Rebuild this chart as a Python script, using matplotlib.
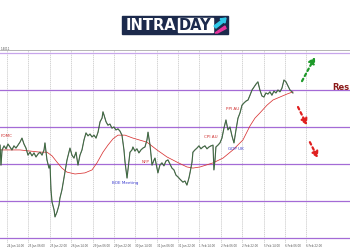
import numpy as np
import matplotlib
matplotlib.use("Agg")
import matplotlib.pyplot as plt
from matplotlib.patches import Rectangle, Polygon

# hours since first grid line (H1 chart) and close prices
hours = [-5.2, -4.5, -3.7, -2.2, -0.7, 0.7, 2.2, 3.7, 5.2, 6.7, 8.2, 9.7, 11.2, 12.7, 14.2, 15.7,
         17.2, 18.7, 20.2, 21.7, 23.2, 24.7, 26.2, 27.7, 28.4, 29.9, 31.4, 32.2, 32.9, 33.7, 35.2,
         35.9, 37.4, 38.9, 39.6, 41.1, 42.6, 43.4, 44.9, 46.4, 47.1, 48.6, 50.1, 51.6, 53.1, 54.6,
         56.1, 57.6, 59.1, 60.6, 62.1, 63.6, 65.1, 66.6, 68.1, 69.6, 71.1, 71.8, 72.6, 74.1, 75.5,
         77.0, 78.5, 80.0, 81.5, 83.0, 84.5, 86.0, 87.5, 88.3, 89.8, 90.5, 92.0, 93.5, 94.2, 95.7,
         97.2, 98.7, 100.2, 101.7, 103.2, 104.7, 105.5, 107.0, 108.5, 110.0, 110.7, 112.2, 112.9,
         114.4, 115.9, 117.4, 118.9, 120.4, 121.9, 123.4, 124.9, 126.4, 127.9, 129.4, 131.6, 133.1,
         134.6, 136.1, 136.9, 138.4, 139.1, 140.6, 142.1, 143.6, 145.1, 146.6, 148.1, 149.6, 151.1,
         152.6, 154.1, 154.8, 155.6, 156.3, 157.8, 159.3, 160.8, 162.3, 163.8, 165.3, 166.8, 168.3,
         169.8, 171.3, 172.8, 174.3, 175.8, 177.3, 178.8, 180.3, 181.8, 183.3, 184.8, 186.3, 187.7,
         189.2, 190.7, 192.2, 193.7, 195.2, 196.7, 198.2, 199.7, 201.2, 202.7, 204.2, 205.7, 207.2,
         208.7, 210.2, 211.7, 213.2, 213.9]
close = [1.3751, 1.3697, 1.3738, 1.3749, 1.3741, 1.3754, 1.3746, 1.3738, 1.3749, 1.3743, 1.3751,
         1.3759, 1.3770, 1.3754, 1.3743, 1.3724, 1.3732, 1.3722, 1.3730, 1.3719, 1.3727, 1.3732,
         1.3724, 1.3738, 1.3757, 1.3711, 1.3689, 1.3697, 1.3630, 1.3597, 1.3576, 1.3557, 1.3570,
         1.3589, 1.3608, 1.3630, 1.3662, 1.3678, 1.3711, 1.3732, 1.3743, 1.3724, 1.3716, 1.3732,
         1.3697, 1.3724, 1.3738, 1.3765, 1.3784, 1.3776, 1.3781, 1.3773, 1.3778, 1.3770, 1.3786,
         1.3814, 1.3824, 1.3841, 1.3832, 1.3814, 1.3805, 1.3808, 1.3797, 1.3800, 1.3792, 1.3795,
         1.3789, 1.3778, 1.3738, 1.3705, 1.3662, 1.3684, 1.3732, 1.3738, 1.3746, 1.3735, 1.3741,
         1.3730, 1.3738, 1.3743, 1.3746, 1.3765, 1.3786, 1.3751, 1.3697, 1.3711, 1.3716, 1.3689,
         1.3676, 1.3697, 1.3703, 1.3695, 1.3708, 1.3711, 1.3700, 1.3689, 1.3684, 1.3670, 1.3665,
         1.3659, 1.3651, 1.3654, 1.3643, 1.3662, 1.3676, 1.3705, 1.3732, 1.3738, 1.3743, 1.3749,
         1.3741, 1.3746, 1.3749, 1.3741, 1.3746, 1.3749, 1.3751, 1.3684, 1.3711, 1.3746, 1.3751,
         1.3757, 1.3770, 1.3797, 1.3819, 1.3792, 1.3800, 1.3776, 1.3757, 1.3792, 1.3824, 1.3838,
         1.3859, 1.3865, 1.3870, 1.3873, 1.3886, 1.3900, 1.3908, 1.3916, 1.3922, 1.3900, 1.3884,
         1.3881, 1.3892, 1.3889, 1.3895, 1.3886, 1.3897, 1.3892, 1.3900, 1.3895, 1.3905, 1.3927,
         1.3922, 1.3911, 1.3900, 1.3895, 1.3892]

# moving average (red)
ma_hours = [-5.2, 2.2, 9.7, 17.2, 24.7, 29.9, 33.7, 37.4, 41.1, 44.9, 50.9, 58.3, 63.6, 67.3, 71.8,
            75.5, 79.3, 83.0, 88.3, 94.2, 104.7, 112.2, 119.7, 127.2, 134.6, 139.1, 144.4, 154.1,
            161.6, 169.0, 176.5, 181.8, 185.5, 189.2, 194.5, 199.0, 204.2, 209.4, 213.9]
ma = [1.3738, 1.3738, 1.3738, 1.3735, 1.3732, 1.3732, 1.3722, 1.3705, 1.3689, 1.3678, 1.3673,
      1.3676, 1.3684, 1.3703, 1.3732, 1.3751, 1.3768, 1.3778, 1.3778, 1.3770, 1.3759, 1.3738,
      1.3719, 1.3705, 1.3692, 1.3689, 1.3692, 1.3703, 1.3716, 1.3738, 1.3765, 1.3803, 1.3824,
      1.3838, 1.3859, 1.3873, 1.3881, 1.3889, 1.3895]

# horizontal support / resistance levels
levels = [1.3500, 1.3600, 1.3700, 1.3800, 1.3900, 1.4000]

# grid every 16 hours
grid_hours = list(range(0, 225, 16))
tick_labels = ["24 Jan 14:00", "25 Jan 06:00", "25 Jan 22:00", "26 Jan 14:00", "29 Jan 06:00",
               "29 Jan 22:00", "30 Jan 14:00", "31 Jan 06:00", "31 Jan 22:00", "1 Feb 14:00",
               "2 Feb 06:00", "2 Feb 22:00", "5 Feb 14:00", "6 Feb 06:00", "6 Feb 22:00"]

# event labels: text, hour, price, colour
events = [("FOMC", -5.0, 1.3776, "#d03030", "left"),
          ("BOE Meeting", 88.3, 1.3649, "#3a3ad0", "center"),
          ("NFP", 104.0, 1.3705, "#d03030", "center"),
          ("CPI AU", 152.6, 1.3773, "#d03030", "center"),
          ("GDP UK", 171.3, 1.3741, "#3a3ad0", "center"),
          ("PPI AU", 169.0, 1.3849, "#d03030", "center")]

# scenario arrows: start, end, colour
arrows = [((220.7, 1.3924), (230.4, 1.3989), "#1e9a2a"),
          ((217.7, 1.3854), (224.4, 1.3805), "#e02020"),
          ((226.6, 1.3759), (232.6, 1.3716), "#e02020")]

fig = plt.figure(figsize=(3.5, 2.5), dpi=100)
fig.patch.set_facecolor("white")

ax = fig.add_axes([0, 7 / 250, 1, 193 / 250])
ax.set_xlim(-5.24, 256.6)
ax.set_ylim(1.35 + (238 - 243) / 3700, 1.35 + (238 - 50) / 3700)

for g in grid_hours:
    ax.axvline(g, color="#c4c4c4", lw=0.5, ls=(0, (2, 1)), zorder=1)
for i, lv in enumerate(levels):
    col = "#c8a6ec" if i == len(levels) - 1 else "#a46bd6"
    ax.axhline(lv, color=col, lw=0.9, zorder=2)

ax.plot(ma_hours, ma, color="#d83434", lw=0.55, zorder=3)
ax.plot(hours, close, color="#3a3f3a", lw=0.8, zorder=4)
ax.plot(hours, close, color="#4aa050", lw=0.3, zorder=5)

for txt, hx, py, col, ha in events:
    ax.text(hx, py, txt, color=col, fontsize=3, ha=ha, va="center", zorder=6)

ax.text(255.8, 1.3908, "Res", color="#8b1a1a", fontsize=6, fontweight="bold",
        ha="right", va="center", zorder=6)

for (x0, y0), (x1, y1), col in arrows:
    ax.annotate("", xy=(x1, y1), xytext=(x0, y0),
                arrowprops=dict(arrowstyle="-|>,head_length=0.35,head_width=0.2", color=col,
                                lw=1.6, linestyle=(0, (1.2, 1.4)), shrinkA=0, shrinkB=0),
                zorder=7)

ax.text(-4.5, 1.4005, "1.4011", fontsize=2, color="#555555", va="bottom")

ax.set_xticks(grid_hours)
ax.set_xticklabels(tick_labels, fontsize=2, color="#555555", ha="left")
ax.tick_params(axis="x", length=0, pad=1)
ax.set_yticks([])
for s in ["left", "right", "bottom"]:
    ax.spines[s].set_visible(False)
ax.spines["top"].set_color("#aaaaaa")
ax.spines["top"].set_linewidth(0.6)

# INTRADAY logo
W, H = 350.0, 250.0
def fx(px):
    return px / W
def fy(py):
    return 1 - py / H

fig.patches.append(Rectangle((fx(122), fy(34)), fx(228) - fx(122), fy(16) - fy(34),
                             transform=fig.transFigure, color="#1c2a4c", zorder=1))
fig.patches.append(Rectangle((fx(178), fy(31.5)), fx(212.5) - fx(178), fy(18.5) - fy(31.5),
                             transform=fig.transFigure, color="white", zorder=2))
fig.text(fx(151), fy(25), "INTRA", color="white", fontsize=10.5, fontweight="bold",
         ha="center", va="center", family="DejaVu Sans", zorder=3)
fig.text(fx(195.3), fy(25), "DAY", color="#1c2a4c", fontsize=10.5, fontweight="bold",
         ha="center", va="center", family="DejaVu Sans", zorder=3)
fig.patches.append(Polygon([(fx(214), fy(26)), (fx(222), fy(20)), (fx(220), fy(19)),
                            (fx(226), fy(18)), (fx(225), fy(23)), (fx(223.5), fy(22)),
                            (fx(216), fy(28))], closed=True, transform=fig.transFigure,
                           color="#30c8e8", zorder=3))
fig.patches.append(Polygon([(fx(215), fy(33)), (fx(225), fy(26)), (fx(226), fy(28.5)),
                            (fx(217.5), fy(33))], closed=True, transform=fig.transFigure,
                           color="#e8349c", zorder=3))

fig.savefig("out.png", dpi=100, facecolor="white")
